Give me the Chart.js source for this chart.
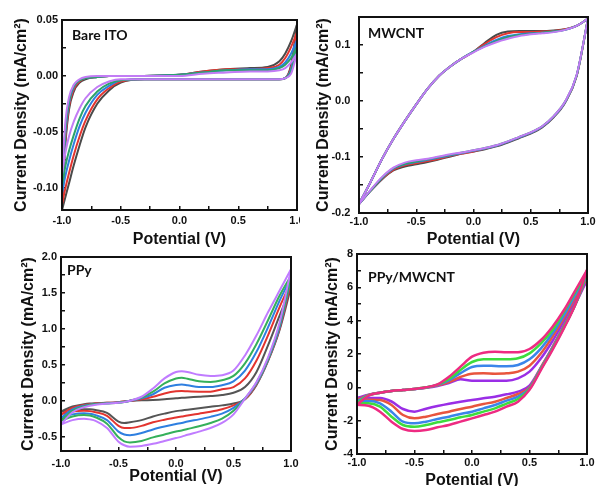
<!DOCTYPE html>
<html lang="en">
<head>
<meta charset="UTF-8">
<title>Cyclic voltammograms</title>
<script src="https://cdn.jsdelivr.net/npm/chart.js"></script>
<style>
    body {
        margin: 0;
        background: #ffffff;
        width: 597px;
        height: 486px;
        overflow: hidden;
        position: relative;
    }
    canvas { position: absolute; }
</style>
</head>
<body>
<canvas id="ito" width="300" height="250" style="left:0;top:0"></canvas>
<canvas id="cnt" width="297" height="250" style="left:300px;top:0"></canvas>
<canvas id="ppy" width="300" height="241" style="left:0;top:245px"></canvas>
<canvas id="comp" width="297" height="241" style="left:300px;top:245px"></canvas>
<script>
// ---- data (potential in V, current density in mA/cm2) ----
// upper = anodic branch, lower = cathodic branch, both listed along the potential array

// Bare ITO
const itoV = [-1.0, -0.97, -0.94, -0.9, -0.85, -0.8, -0.7, -0.6, -0.5, -0.3, 0.0, 0.2, 0.4, 0.6, 0.75, 0.85, 0.9, 0.95, 1.0];
const itoUpper = [
    [-0.120, -0.060, -0.030, -0.014, -0.006, -0.003, -0.001, 0.000, 0.000, 0.000, 0.001, 0.004, 0.006, 0.007, 0.008, 0.013, 0.020, 0.031, 0.046],
    [-0.115, -0.055, -0.027, -0.012, -0.005, -0.002, -0.001, 0.000, 0.000, 0.000, 0.001, 0.004, 0.006, 0.006, 0.007, 0.010, 0.016, 0.026, 0.039],
    [-0.105, -0.050, -0.024, -0.010, -0.004, -0.002, -0.001, 0.000, 0.000, 0.000, 0.001, 0.003, 0.005, 0.006, 0.006, 0.008, 0.012, 0.020, 0.032],
    [-0.098, -0.046, -0.022, -0.009, -0.004, -0.002, -0.001, 0.000, 0.000, 0.000, 0.001, 0.003, 0.005, 0.005, 0.005, 0.007, 0.010, 0.016, 0.026],
    [-0.088, -0.040, -0.019, -0.008, -0.003, -0.001, 0.000, 0.000, 0.000, 0.000, 0.000, 0.002, 0.003, 0.004, 0.004, 0.005, 0.007, 0.012, 0.020]
];
const itoLower = [
    [-0.120, -0.108, -0.096, -0.080, -0.062, -0.046, -0.025, -0.013, -0.006, -0.003, -0.003, -0.003, -0.003, -0.003, -0.003, -0.003, -0.002, 0.010, 0.046],
    [-0.115, -0.100, -0.087, -0.071, -0.054, -0.040, -0.021, -0.011, -0.005, -0.003, -0.003, -0.003, -0.003, -0.003, -0.003, -0.003, -0.002, 0.008, 0.039],
    [-0.105, -0.089, -0.076, -0.061, -0.045, -0.033, -0.017, -0.009, -0.004, -0.003, -0.003, -0.003, -0.003, -0.003, -0.003, -0.003, -0.002, 0.006, 0.032],
    [-0.098, -0.080, -0.067, -0.053, -0.038, -0.027, -0.014, -0.007, -0.004, -0.003, -0.003, -0.003, -0.003, -0.003, -0.003, -0.003, -0.002, 0.004, 0.026],
    [-0.088, -0.068, -0.054, -0.041, -0.029, -0.020, -0.010, -0.005, -0.003, -0.003, -0.003, -0.003, -0.003, -0.003, -0.003, -0.003, -0.002, 0.002, 0.020]
];

// MWCNT
const cntV = [-1.0, -0.9, -0.8, -0.7, -0.6, -0.5, -0.4, -0.3, -0.2, -0.1, 0.0, 0.1, 0.2, 0.3, 0.4, 0.5, 0.6, 0.7, 0.8, 0.9, 1.0];
const cntUpper = [
    [-0.184, -0.145, -0.104, -0.068, -0.036, -0.006, 0.022, 0.045, 0.062, 0.076, 0.088, 0.104, 0.118, 0.124, 0.125, 0.125, 0.125, 0.126, 0.128, 0.134, 0.147],
    [-0.184, -0.145, -0.104, -0.068, -0.036, -0.006, 0.022, 0.045, 0.062, 0.076, 0.088, 0.102, 0.114, 0.121, 0.123, 0.123, 0.124, 0.125, 0.128, 0.134, 0.147],
    [-0.184, -0.145, -0.104, -0.068, -0.036, -0.006, 0.022, 0.045, 0.062, 0.076, 0.088, 0.099, 0.109, 0.116, 0.119, 0.121, 0.122, 0.124, 0.127, 0.134, 0.147],
    [-0.184, -0.145, -0.104, -0.068, -0.036, -0.006, 0.022, 0.045, 0.062, 0.076, 0.088, 0.098, 0.107, 0.114, 0.118, 0.120, 0.122, 0.124, 0.127, 0.134, 0.147],
    [-0.184, -0.145, -0.104, -0.068, -0.036, -0.006, 0.022, 0.045, 0.062, 0.076, 0.087, 0.097, 0.105, 0.111, 0.116, 0.119, 0.121, 0.123, 0.127, 0.134, 0.147]
];
const cntLower = [
    [-0.184, -0.161, -0.140, -0.124, -0.117, -0.113, -0.109, -0.104, -0.099, -0.094, -0.090, -0.086, -0.081, -0.074, -0.066, -0.058, -0.047, -0.029, -0.003, 0.044, 0.147],
    [-0.184, -0.160, -0.139, -0.123, -0.115, -0.111, -0.107, -0.103, -0.098, -0.094, -0.090, -0.085, -0.080, -0.073, -0.065, -0.057, -0.046, -0.028, -0.002, 0.044, 0.147],
    [-0.184, -0.160, -0.138, -0.121, -0.113, -0.109, -0.105, -0.101, -0.097, -0.093, -0.089, -0.085, -0.080, -0.073, -0.065, -0.057, -0.046, -0.028, -0.002, 0.045, 0.147],
    [-0.184, -0.160, -0.137, -0.120, -0.112, -0.108, -0.104, -0.100, -0.096, -0.092, -0.088, -0.084, -0.079, -0.072, -0.064, -0.056, -0.045, -0.027, -0.001, 0.045, 0.147],
    [-0.184, -0.159, -0.136, -0.119, -0.110, -0.106, -0.103, -0.099, -0.095, -0.092, -0.088, -0.084, -0.079, -0.072, -0.064, -0.056, -0.045, -0.027, -0.001, 0.046, 0.147]
];

// PPy
const ppyV = [-1.0, -0.9, -0.8, -0.75, -0.7, -0.6, -0.5, -0.45, -0.4, -0.3, -0.2, -0.1, 0.0, 0.05, 0.1, 0.2, 0.3, 0.4, 0.5, 0.6, 0.7, 0.8, 0.9, 1.0];
const ppyUpper = [
    [-0.15, -0.08, -0.05, -0.04, -0.035, -0.03, -0.02, -0.012, -0.005, 0.005, 0.01, 0.02, 0.035, 0.04, 0.045, 0.055, 0.065, 0.08, 0.11, 0.19, 0.40, 0.77, 1.18, 1.58],
    [-0.19, -0.10, -0.06, -0.05, -0.04, -0.03, -0.02, -0.012, -0.002, 0.02, 0.055, 0.10, 0.13, 0.135, 0.13, 0.125, 0.125, 0.16, 0.19, 0.31, 0.56, 0.91, 1.30, 1.65],
    [-0.24, -0.12, -0.07, -0.055, -0.045, -0.035, -0.025, -0.015, 0.0, 0.035, 0.09, 0.18, 0.22, 0.225, 0.215, 0.19, 0.19, 0.215, 0.27, 0.42, 0.68, 1.02, 1.39, 1.71],
    [-0.28, -0.14, -0.08, -0.06, -0.05, -0.038, -0.028, -0.018, 0.0, 0.045, 0.125, 0.24, 0.31, 0.32, 0.305, 0.27, 0.26, 0.285, 0.345, 0.52, 0.79, 1.12, 1.46, 1.74],
    [-0.33, -0.16, -0.09, -0.07, -0.055, -0.04, -0.03, -0.02, 0.0, 0.055, 0.17, 0.31, 0.40, 0.41, 0.40, 0.36, 0.345, 0.355, 0.42, 0.63, 0.91, 1.23, 1.53, 1.83]
];
const ppyLower = [
    [-0.15, -0.125, -0.118, -0.12, -0.13, -0.17, -0.29, -0.31, -0.30, -0.27, -0.22, -0.18, -0.145, -0.135, -0.125, -0.105, -0.085, -0.065, -0.04, 0.02, 0.22, 0.55, 0.98, 1.58],
    [-0.19, -0.15, -0.14, -0.145, -0.16, -0.21, -0.35, -0.38, -0.38, -0.35, -0.30, -0.265, -0.235, -0.22, -0.205, -0.18, -0.155, -0.12, -0.065, 0.02, 0.23, 0.56, 1.0, 1.65],
    [-0.24, -0.19, -0.175, -0.18, -0.20, -0.27, -0.43, -0.47, -0.48, -0.45, -0.40, -0.36, -0.325, -0.31, -0.29, -0.26, -0.225, -0.18, -0.10, 0.03, 0.24, 0.57, 1.02, 1.71],
    [-0.28, -0.22, -0.20, -0.205, -0.23, -0.32, -0.51, -0.565, -0.58, -0.56, -0.51, -0.47, -0.43, -0.415, -0.395, -0.355, -0.31, -0.25, -0.14, 0.03, 0.25, 0.58, 1.05, 1.74],
    [-0.33, -0.27, -0.25, -0.26, -0.28, -0.38, -0.57, -0.62, -0.64, -0.63, -0.60, -0.56, -0.52, -0.50, -0.475, -0.43, -0.38, -0.31, -0.19, 0.03, 0.26, 0.60, 1.08, 1.83]
];

// PPy/MWCNT
const compV = [-1.0, -0.9, -0.8, -0.7, -0.6, -0.5, -0.4, -0.3, -0.2, -0.1, 0.0, 0.1, 0.2, 0.3, 0.4, 0.5, 0.6, 0.7, 0.8, 0.9, 1.0];
const compUpper = [
    [-0.65, -0.45, -0.32, -0.22, -0.16, -0.10, -0.03, 0.08, 0.25, 0.48, 0.40, 0.40, 0.40, 0.40, 0.54, 0.94, 1.74, 2.78, 3.98, 5.24, 6.44],
    [-0.75, -0.46, -0.32, -0.22, -0.16, -0.10, -0.02, 0.12, 0.32, 0.62, 0.82, 0.84, 0.82, 0.84, 0.94, 1.30, 2.04, 3.04, 4.18, 5.44, 6.64],
    [-0.85, -0.47, -0.32, -0.22, -0.16, -0.10, -0.01, 0.15, 0.42, 0.85, 1.22, 1.30, 1.28, 1.26, 1.34, 1.68, 2.34, 3.24, 4.34, 5.58, 6.78],
    [-0.95, -0.48, -0.32, -0.22, -0.16, -0.10, 0.00, 0.16, 0.50, 1.04, 1.52, 1.68, 1.68, 1.68, 1.74, 2.04, 2.64, 3.44, 4.54, 5.74, 6.94],
    [-1.05, -0.50, -0.33, -0.22, -0.16, -0.10, 0.00, 0.18, 0.64, 1.24, 1.84, 2.08, 2.14, 2.10, 2.10, 2.30, 2.84, 3.64, 4.64, 5.84, 7.04]
];
const compLower = [
    [-0.65, -0.64, -0.64, -0.85, -1.30, -1.46, -1.28, -1.12, -0.98, -0.86, -0.76, -0.66, -0.56, -0.42, -0.26, 0.10, 1.20, 2.40, 3.70, 5.00, 6.44],
    [-0.75, -0.74, -0.76, -1.06, -1.66, -1.86, -1.76, -1.60, -1.46, -1.30, -1.16, -1.00, -0.86, -0.64, -0.40, 0.00, 1.20, 2.40, 3.70, 5.00, 6.64],
    [-0.85, -0.82, -0.96, -1.46, -2.06, -2.16, -2.06, -1.90, -1.76, -1.60, -1.46, -1.26, -1.06, -0.80, -0.56, -0.05, 1.15, 2.35, 3.65, 5.00, 6.78],
    [-0.95, -0.96, -1.16, -1.76, -2.26, -2.36, -2.26, -2.10, -1.96, -1.80, -1.66, -1.46, -1.26, -0.98, -0.70, -0.10, 1.10, 2.30, 3.60, 5.00, 6.94],
    [-1.05, -1.10, -1.46, -2.06, -2.50, -2.62, -2.56, -2.40, -2.26, -2.06, -1.86, -1.66, -1.46, -1.16, -0.86, -0.15, 1.05, 2.25, 3.55, 5.00, 7.04]
];

// ---- styles ----
const cvColors = ['#4a4a4a', '#e3342f', '#2e7fe0', '#2aa36b', '#c27cf5'];
const ppyColors = ['#555555', '#e3342f', '#2e7fe0', '#35b05a', '#c07cff'];
const compColors = ['#9a2ee6', '#e8553e', '#3a85ea', '#3ddc3d', '#ee2b82'];

const ink = '#111111';
const tickFont = { family: "'Liberation Sans', Arial, sans-serif", size: 11, weight: 'bold' };
const titleFont = { family: "'Liberation Sans', Arial, sans-serif", size: 16, weight: 'bold' };

const isMajor = (v, m) => Math.abs(v / m - Math.round(v / m)) < 1e-6;
const fmt = (v, d) => (Math.abs(v) < 1e-9 ? 0 : v).toFixed(d);

// black box round the plot area
const framePlugin = {
    id: 'frame',
    afterDatasetsDraw(chart) {
        const { ctx, chartArea: a } = chart;
        ctx.save();
        ctx.strokeStyle = ink;
        ctx.lineWidth = 2;
        ctx.strokeRect(a.left, a.top, a.right - a.left, a.bottom - a.top);
        ctx.restore();
    }
};

function panelLabel(text, dx, dy) {
    return {
        id: 'panelLabel',
        afterDraw(chart) {
            const { ctx, chartArea: a } = chart;
            ctx.save();
            ctx.font = 'bold 14px Lato, sans-serif';
            ctx.fillStyle = ink;
            ctx.textBaseline = 'middle';
            ctx.fillText(text, a.left + dx, a.top + dy);
            ctx.restore();
        }
    };
}

function buildPanel(id, p) {
    const datasets = [];
    p.upper.forEach((up, k) => {
        [up, p.lower[k]].forEach(branch => {
            datasets.push({
                data: p.pot.map((v, i) => ({ x: v, y: branch[i] })),
                borderColor: p.colors[k],
                borderWidth: p.lw,
                showLine: true,
                pointRadius: 0,
                cubicInterpolationMode: 'monotone',
                order: p.upper.length - k
            });
        });
    });

    new Chart(document.getElementById(id), {
        type: 'scatter',
        data: { datasets },
        options: {
            responsive: false,
            animation: false,
            devicePixelRatio: 1,
            layout: { padding: p.pad },
            plugins: { legend: { display: false }, tooltip: { enabled: false } },
            scales: {
                x: {
                    type: 'linear', min: -1, max: 1,
                    ticks: {
                        stepSize: 0.25, autoSkip: false, maxRotation: 0,
                        padding: p.xTickPad, color: ink, font: tickFont,
                        callback: v => isMajor(v, 0.5) ? fmt(v, 1) : ''
                    },
                    grid: { drawOnChartArea: false, tickLength: -4, color: ink, lineWidth: 1.5 },
                    border: { display: false },
                    title: {
                        display: true, text: 'Potential (V)', color: ink, font: titleFont,
                        padding: { top: 0, bottom: p.xTitlePad }
                    },
                    afterFit: s => { s.height = p.xH; s.paddingLeft = 0; s.paddingRight = 0; }
                },
                y: {
                    type: 'linear', min: p.yMin, max: p.yMax,
                    ticks: {
                        stepSize: p.yStep, autoSkip: false,
                        padding: p.yTickPad, color: ink, font: tickFont,
                        callback: v => isMajor(v, p.yMajor) ? fmt(v, p.yDec) : ''
                    },
                    grid: { drawOnChartArea: false, tickLength: -4, color: ink, lineWidth: 1.5 },
                    border: { display: false },
                    title: {
                        display: true, text: 'Current Density (mA/cm²)', color: ink, font: titleFont,
                        padding: { top: p.yTitlePad, bottom: 0 }
                    },
                    afterFit: s => { s.width = p.yW; s.paddingTop = 0; s.paddingBottom = 0; }
                }
            }
        },
        plugins: [framePlugin, panelLabel(p.label, p.labelDx, p.labelDy)]
    });
}

buildPanel('ito', {
    pot: itoV, upper: itoUpper, lower: itoLower, colors: cvColors, lw: 2,
    yMin: -0.12, yMax: 0.05, yStep: 0.025, yMajor: 0.05, yDec: 2,
    pad: { left: 0, right: 3, top: 20, bottom: 0 }, yW: 62, xH: 40,
    xTickPad: 8.4, yTickPad: 8, xTitlePad: 0.4, yTitlePad: 12.4,
    label: 'Bare ITO', labelDx: 10, labelDy: 15
});

buildPanel('cnt', {
    pot: cntV, upper: cntUpper, lower: cntLower, colors: cvColors, lw: 2,
    yMin: -0.2, yMax: 0.15, yStep: 0.05, yMajor: 0.1, yDec: 1,
    pad: { left: 0, right: 9, top: 17, bottom: 0 }, yW: 59, xH: 37,
    xTickPad: 6.4, yTickPad: 12.6, xTitlePad: 0.4, yTitlePad: 14.4,
    label: 'MWCNT', labelDx: 9, labelDy: 16.5
});

buildPanel('ppy', {
    pot: ppyV, upper: ppyUpper, lower: ppyLower, colors: ppyColors, lw: 2,
    yMin: -0.7, yMax: 2.0, yStep: 0.25, yMajor: 0.5, yDec: 1,
    pad: { left: 0, right: 9, top: 12, bottom: 0 }, yW: 61, xH: 35,
    xTickPad: 10.4, yTickPad: 8, xTitlePad: -0.6, yTitlePad: 19.4,
    label: 'PPy', labelDx: 6, labelDy: 13
});

buildPanel('comp', {
    pot: compV, upper: compUpper, lower: compLower, colors: compColors, lw: 2.5,
    yMin: -4, yMax: 8, yStep: 1, yMajor: 2, yDec: 0,
    pad: { left: 0, right: 10, top: 9, bottom: 0 }, yW: 57, xH: 32,
    xTickPad: 6.4, yTickPad: 8, xTitlePad: -4.6, yTitlePad: 23.4,
    label: 'PPy/MWCNT', labelDx: 11, labelDy: 23.5
});
</script>
</body>
</html>
